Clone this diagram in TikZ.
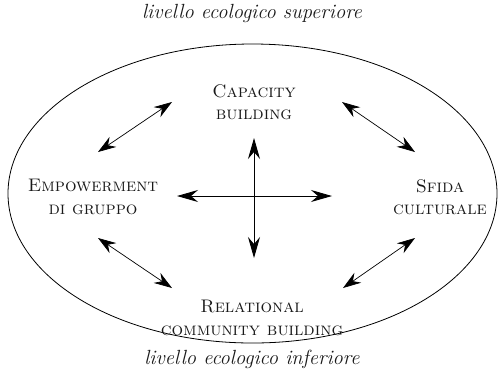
\documentclass[tikz,border=0pt]{standalone}
\usetikzlibrary{arrows.meta,shapes.geometric}
\begin{document}
\begin{tikzpicture}[x=1pt,y=-1pt,
  label/.style={align=center,font=\fontsize{18.2}{22.5}\selectfont\scshape,inner sep=0pt,text=black!90},
  level/.style={font=\fontsize{20.5}{22}\selectfont\itshape,inner sep=0pt,text=black!90},
  bigarrow/.style={line width=0.9pt,{Stealth[length=21pt,width=12pt,inset=7pt]}-{Stealth[length=21pt,width=12pt,inset=7pt]}},
  diagarrow/.style={line width=0.7pt,{Stealth[length=18pt,width=12pt,inset=6pt]}-{Stealth[length=18pt,width=12pt,inset=6pt]}}]
\useasboundingbox (0,0) rectangle (498,376);

% outer ecological boundary
\node[draw,ellipse,minimum width=489pt,minimum height=299pt,line width=0.8pt,inner sep=0pt] (eco) at (252.5,193.5) {};

% level captions
\node[level] (sup) at (252,13) {livello ecologico superiore};
\node[level] (inf) at (252,359) {livello ecologico inferiore};

% the four dimensions
\node[label] (cap) at (254,102) {Capacity\\building};
\node[label] (emp) at (93,197) {Empowerment\\di gruppo};
\node[label] (sfi) at (440,197) {Sfida\\culturale};
\node[label] (rel) at (252,318) {Relational\\community building};

% end points of the connectors
\coordinate (vt) at (254,138);
\coordinate (vb) at (254,258);
\coordinate (hl) at (177,196);
\coordinate (hr) at (332,196);
\coordinate (ul1) at (98,152);
\coordinate (ul2) at (172,102);
\coordinate (ur1) at (342,102);
\coordinate (ur2) at (415,152);
\coordinate (ll1) at (98,238);
\coordinate (ll2) at (172,288);
\coordinate (lr1) at (343,288);
\coordinate (lr2) at (415,238);

% central cross
\draw[bigarrow] (vt) -- (vb);
\draw[bigarrow] (hl) -- (hr);

% links between neighbouring dimensions
\draw[diagarrow] (ul1) -- (ul2);
\draw[diagarrow] (ur1) -- (ur2);
\draw[diagarrow] (ll1) -- (ll2);
\draw[diagarrow] (lr1) -- (lr2);
\end{tikzpicture}
\end{document}
